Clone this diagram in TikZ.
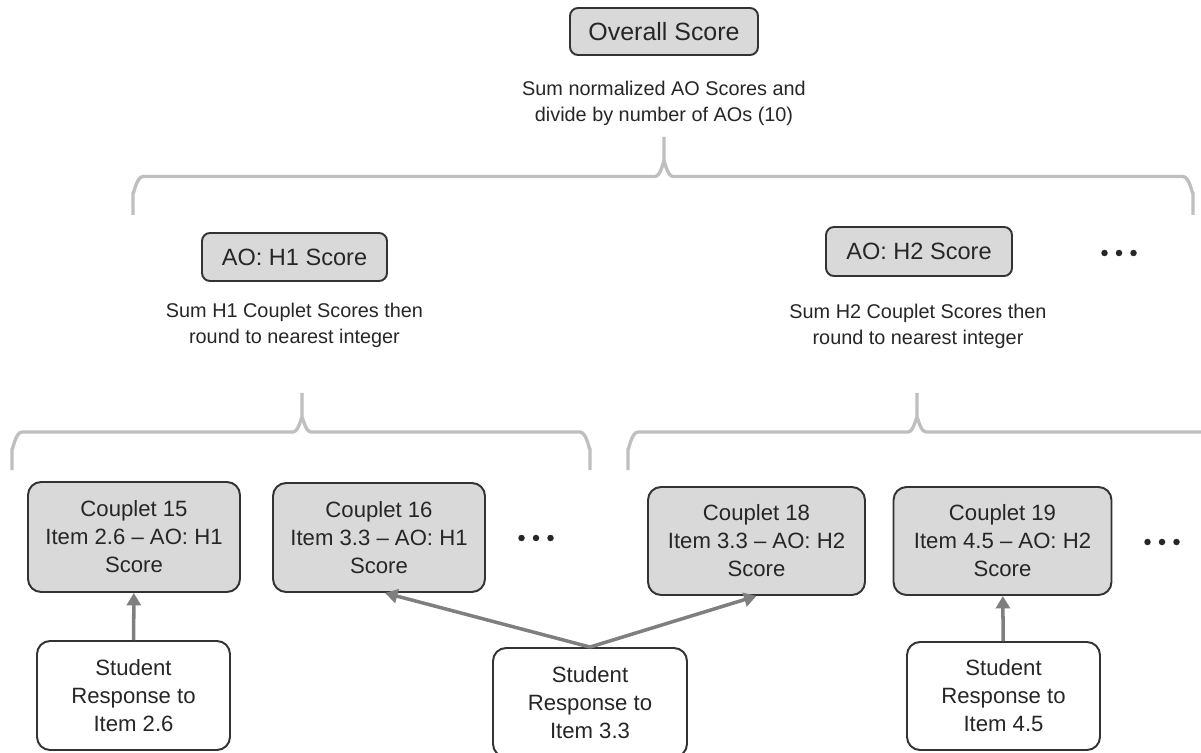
\documentclass[tikz,border=0pt]{standalone}
\usepackage{fontspec}
\setmainfont{Liberation Sans}
\usetikzlibrary{arrows.meta}
\definecolor{boxgray}{HTML}{D9D9D9}
\definecolor{edgegray}{HTML}{333333}
\definecolor{bracegray}{HTML}{BFBFBF}
\definecolor{arrowgray}{HTML}{7F7F7F}
\definecolor{textgray}{HTML}{262626}
\begin{document}
\begin{tikzpicture}[x=0.02cm,y=-0.02cm,
	scorebox/.style={draw=edgegray,fill=boxgray,line width=1.1pt,rounded corners=0.16cm,
		inner sep=0pt,align=center,text=textgray,font=\fontsize{13.4}{16}\selectfont},
	coupletbox/.style={scorebox,rounded corners=0.26cm,
		font=\fontsize{12.6}{15.9}\selectfont},
	responsebox/.style={coupletbox,fill=white},
	note/.style={align=center,text=textgray,font=\fontsize{11.3}{14.8}\selectfont},
	brace/.style={draw=bracegray,line width=1.9pt},
	feed/.style={draw=arrowgray,line width=2pt,-{Triangle[length=0.25cm,width=0.28cm]}}]
	\useasboundingbox (0,0) rectangle (1201,753);
	
	% Overall
	\node[scorebox,minimum width=3.76cm,minimum height=0.94cm,font=\fontsize{14.2}{17}\selectfont] (overall) at (664,31.5) {Overall Score};
	\node[note] (overallnote) at (664,103.5) {Sum normalized AO Scores and\\divide by number of AOs (10)};
	\draw[brace] (133,215) -- (133,192) to[out=-90,in=180] (143,176.5) -- (655,176.5)
		to[out=0,in=90] (664,163) -- (664,137);
	\draw[brace] (664,163) to[out=90,in=180] (673,176.5) -- (1183,176.5)
		to[out=0,in=-90] (1193,192) -- (1193,215);
	
	% AO scores
	\node[scorebox,minimum width=3.7cm,minimum height=0.96cm] (aoh1) at (294.5,257) {AO: H1 Score};
	\node[scorebox,minimum width=3.72cm,minimum height=0.98cm] (aoh2) at (919,251.5) {AO: H2 Score};
	\foreach \dx in {-14.5,0,14.5}
		\fill[textgray] (1119+\dx,253) circle (0.065cm);
	\node[note] (aoh1note) at (294.5,325) {Sum H1 Couplet Scores then\\round to nearest integer};
	\node[note] (aoh2note) at (918,326) {Sum H2 Couplet Scores then\\round to nearest integer};
	
	% Braces over couplets
	\draw[brace] (12,470) -- (12,448) to[out=-90,in=180] (22,432) -- (293,432)
		to[out=0,in=90] (302,419) -- (302,393);
	\draw[brace] (302,419) to[out=90,in=180] (311,432) -- (580,432)
		to[out=0,in=-90] (590,448) -- (590,470);
	\draw[brace] (628,470) -- (628,448) to[out=-90,in=180] (638,432) -- (908,432)
		to[out=0,in=90] (917,419) -- (917,393);
	\draw[brace] (917,419) to[out=90,in=180] (926,432) -- (1210,432);
	
	% Couplets
	\node[coupletbox,minimum width=4.24cm,minimum height=2.2cm] (cp15) at (134,537) {Couplet 15\\Item 2.6 -- AO: H1\\Score};
	\node[coupletbox,minimum width=4.24cm,minimum height=2.18cm] (cp16) at (379,537.5) {Couplet 16\\Item 3.3 -- AO: H1\\Score};
	\node[coupletbox,minimum width=4.34cm,minimum height=2.16cm] (cp18) at (756.5,541) {Couplet 18\\Item 3.3 -- AO: H2\\Score};
	\node[coupletbox,minimum width=4.36cm,minimum height=2.16cm] (cp19) at (1002.5,541) {Couplet 19\\Item 4.5 -- AO: H2\\Score};
	\foreach \dx in {-14.5,0,14.5} {
		\fill[textgray] (536+\dx,538) circle (0.065cm);
		\fill[textgray] (1162+\dx,542) circle (0.065cm);
	}
	
	% Student responses
	\node[responsebox,minimum width=3.86cm,minimum height=2.18cm] (sr26) at (133.5,695.5) {Student\\Response to\\Item 2.6};
	\node[responsebox,minimum width=3.88cm,minimum height=2.18cm] (sr33) at (590,702.5) {Student\\Response to\\Item 3.3};
	\node[responsebox,minimum width=3.86cm,minimum height=2.16cm] (sr45) at (1003.5,696) {Student\\Response to\\Item 4.5};
	
	% Arrows
	\draw[feed] (sr26) -- (cp15);
	\draw[feed] (sr33.north) -- ([xshift=0.12cm]cp16.south);
	\draw[feed] (sr33.north) -- (cp18.south);
	\draw[feed] (sr45) -- (cp19);
\end{tikzpicture}
\end{document}
